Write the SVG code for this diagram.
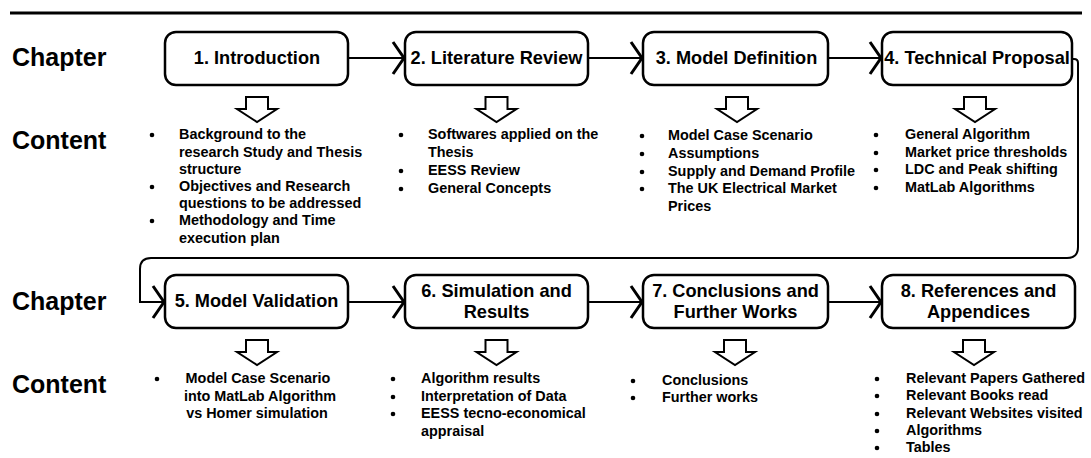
<svg xmlns="http://www.w3.org/2000/svg" width="1091" height="458" viewBox="0 0 1091 458">
  <style>
    .box { fill: #ffffff; stroke: #000000; stroke-width: 2.5; }
    .title { font-family: "Liberation Sans", Arial, sans-serif; font-weight: bold; font-size: 18.2px; fill: #000; text-anchor: middle; }
    .label { font-family: "Liberation Sans", Arial, sans-serif; font-weight: bold; font-size: 25px; fill: #000; }
    .item { font-family: "Liberation Sans", Arial, sans-serif; font-weight: bold; font-size: 14.4px; fill: #000; }
    .dot { fill: #000; }
    .link { fill: none; stroke: #000; stroke-width: 2; }
    .down { fill: #ffffff; stroke: #000; stroke-width: 2; stroke-linejoin: miter; }
  </style>
  <defs>
    <marker id="open" markerUnits="userSpaceOnUse" viewBox="-14 -19 18 38" markerWidth="18" markerHeight="38" refX="0" refY="0" orient="auto" overflow="visible">
      <path d="M-11,-16 L0,0 L-11,16" fill="none" stroke="#000" stroke-width="3"/>
    </marker>
    <path id="downArrow" class="down" d="M-11,0 H11 V12 H20 L0,25 L-20,12 H-11 Z"/>
  </defs>

  <!-- header rule -->
  <line x1="10" y1="13" x2="1082" y2="13" stroke="#000" stroke-width="3"/>

  <!-- row labels -->
  <text class="label" x="12" y="66">Chapter</text>
  <text class="label" x="12" y="149">Content</text>
  <text class="label" x="12" y="310">Chapter</text>
  <text class="label" x="12" y="393">Content</text>

  <!-- connectors -->
  <g id="connectors">
    <path class="link" d="M348,58 H404" marker-end="url(#open)"/>
    <path class="link" d="M588,58 H642" marker-end="url(#open)"/>
    <path class="link" d="M828,58 H881" marker-end="url(#open)"/>
    <path class="link" d="M1072,59 H1074 Q1078,59 1078,63 V247 Q1078,258 1067,258 H151 Q140,258 140,269 V302 H164" marker-end="url(#open)"/>
    <path class="link" d="M348,302 H404" marker-end="url(#open)"/>
    <path class="link" d="M588,302 H642" marker-end="url(#open)"/>
    <path class="link" d="M828,302 H881" marker-end="url(#open)"/>
  </g>

  <!-- chapter 1 -->
  <g id="ch1">
    <rect class="box" x="165" y="32" width="183" height="53" rx="11"/>
    <text class="title" x="257" y="64">1. Introduction</text>
    <use href="#downArrow" x="257" y="97"/>
    <circle class="dot" cx="152" cy="135" r="2.3"/>
    <text class="item" x="179" y="139">Background to the</text>
    <text class="item" x="179" y="156.5">research Study and Thesis</text>
    <text class="item" x="179" y="173.5">structure</text>
    <circle class="dot" cx="152" cy="187" r="2.3"/>
    <text class="item" x="179" y="191">Objectives and Research</text>
    <text class="item" x="179" y="208">questions to be addressed</text>
    <circle class="dot" cx="152" cy="221" r="2.3"/>
    <text class="item" x="179" y="225">Methodology and Time</text>
    <text class="item" x="179" y="242.5">execution plan</text>
  </g>

  <!-- chapter 2 -->
  <g id="ch2">
    <rect class="box" x="405" y="32" width="183" height="53" rx="11"/>
    <text class="title" x="496.5" y="64">2. Literature Review</text>
    <use href="#downArrow" x="496.5" y="97"/>
    <circle class="dot" cx="401" cy="135" r="2.3"/>
    <text class="item" x="428" y="139">Softwares applied on the</text>
    <text class="item" x="428" y="157">Thesis</text>
    <circle class="dot" cx="401" cy="171" r="2.3"/>
    <text class="item" x="428" y="175">EESS Review</text>
    <circle class="dot" cx="401" cy="189" r="2.3"/>
    <text class="item" x="428" y="193">General Concepts</text>
  </g>

  <!-- chapter 3 -->
  <g id="ch3">
    <rect class="box" x="643" y="32" width="185" height="53" rx="11"/>
    <text class="title" x="736.5" y="64">3. Model Definition</text>
    <use href="#downArrow" x="737" y="97"/>
    <circle class="dot" cx="642" cy="136" r="2.3"/>
    <text class="item" x="668" y="140">Model Case Scenario</text>
    <circle class="dot" cx="642" cy="154" r="2.3"/>
    <text class="item" x="668" y="158">Assumptions</text>
    <circle class="dot" cx="642" cy="172" r="2.3"/>
    <text class="item" x="668" y="176">Supply and Demand Profile</text>
    <circle class="dot" cx="642" cy="189" r="2.3"/>
    <text class="item" x="668" y="193">The UK Electrical Market</text>
    <text class="item" x="668" y="211">Prices</text>
  </g>

  <!-- chapter 4 -->
  <g id="ch4">
    <rect class="box" x="882" y="32" width="190" height="53" rx="11"/>
    <text class="title" x="977" y="64">4. Technical Proposal</text>
    <use href="#downArrow" x="975" y="97"/>
    <circle class="dot" cx="876" cy="135" r="2.3"/>
    <text class="item" x="905" y="139">General Algorithm</text>
    <circle class="dot" cx="876" cy="153" r="2.3"/>
    <text class="item" x="905" y="157">Market price thresholds</text>
    <circle class="dot" cx="876" cy="170" r="2.3"/>
    <text class="item" x="905" y="174">LDC and Peak shifting</text>
    <circle class="dot" cx="876" cy="188" r="2.3"/>
    <text class="item" x="905" y="192">MatLab Algorithms</text>
  </g>

  <!-- chapter 5 -->
  <g id="ch5">
    <rect class="box" x="165" y="275" width="183" height="53" rx="11"/>
    <text class="title" x="256.5" y="307">5. Model Validation</text>
    <use href="#downArrow" x="257" y="340"/>
    <circle class="dot" cx="157" cy="379" r="2.3"/>
    <text class="item" x="258" y="383" text-anchor="middle">Model Case Scenario</text>
    <text class="item" x="260" y="401" text-anchor="middle">into MatLab Algorithm</text>
    <text class="item" x="257" y="418" text-anchor="middle">vs Homer simulation</text>
  </g>

  <!-- chapter 6 -->
  <g id="ch6">
    <rect class="box" x="405" y="275" width="183" height="53" rx="11"/>
    <text class="title" x="496.5" y="297">6. Simulation and</text>
    <text class="title" x="496.5" y="318">Results</text>
    <use href="#downArrow" x="496.5" y="340"/>
    <circle class="dot" cx="393" cy="379" r="2.3"/>
    <text class="item" x="421" y="383">Algorithm results</text>
    <circle class="dot" cx="393" cy="397" r="2.3"/>
    <text class="item" x="421" y="401">Interpretation of Data</text>
    <circle class="dot" cx="393" cy="414" r="2.3"/>
    <text class="item" x="421" y="418">EESS tecno-economical</text>
    <text class="item" x="421" y="436">appraisal</text>
  </g>

  <!-- chapter 7 -->
  <g id="ch7">
    <rect class="box" x="643" y="275" width="185" height="53" rx="11"/>
    <text class="title" x="735.5" y="297">7. Conclusions and</text>
    <text class="title" x="735.5" y="318">Further Works</text>
    <use href="#downArrow" x="735" y="340"/>
    <circle class="dot" cx="633" cy="381" r="2.3"/>
    <text class="item" x="662" y="385">Conclusions</text>
    <circle class="dot" cx="633" cy="398" r="2.3"/>
    <text class="item" x="662" y="402">Further works</text>
  </g>

  <!-- chapter 8 -->
  <g id="ch8">
    <rect class="box" x="882" y="275" width="193" height="53" rx="11"/>
    <text class="title" x="978.5" y="297">8. References and</text>
    <text class="title" x="978.5" y="318">Appendices</text>
    <use href="#downArrow" x="974" y="340"/>
    <circle class="dot" cx="877" cy="379" r="2.3"/>
    <text class="item" x="906" y="383">Relevant Papers Gathered</text>
    <circle class="dot" cx="877" cy="396" r="2.3"/>
    <text class="item" x="906" y="400">Relevant Books read</text>
    <circle class="dot" cx="877" cy="414" r="2.3"/>
    <text class="item" x="906" y="418">Relevant Websites visited</text>
    <circle class="dot" cx="877" cy="431" r="2.3"/>
    <text class="item" x="906" y="435">Algorithms</text>
    <circle class="dot" cx="877" cy="448" r="2.3"/>
    <text class="item" x="906" y="452">Tables</text>
  </g>
</svg>
